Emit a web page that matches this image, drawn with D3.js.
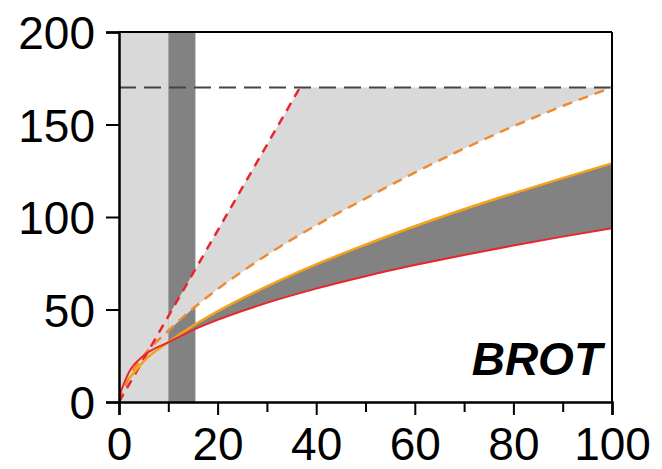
<!DOCTYPE html>
<html>
<head>
<meta charset="utf-8">
<script src="https://cdn.jsdelivr.net/npm/d3@7"></script>
<style>
  body { margin: 0; background: #fff; }
  text { font-family: "Liberation Sans", Arial, sans-serif; }
</style>
</head>
<body>
<script>
// values
var xs = [0, 2, 5, 10, 15, 20, 30, 40, 50, 60, 70, 80, 90, 100];
var orangeDashed = [0, 13, 25, 38.5, 50.5, 61, 79.5, 95.5, 110, 124, 137, 149, 160, 170];
var orangeSolid = [null, 12.5, 22, 32.3, 41.2, 49, 62.5, 74.4, 85, 95, 104.2, 112.8, 121, 129];
var redSolid = [3, 16, 25, 32.2, 38.9, 44.4, 53.6, 61.3, 68, 74, 79.5, 84.6, 89.4, 93.9];
var redDashX = [0, 36.7];
var redDashY = [0, 170];
var capLevel = 170;
var lightBand = [0, 10];
var darkBand = [10, 15.5];
var xTicks = d3.range(0, 101, 10);
var yTicks = [0, 50, 100, 150, 200];
var label = "BROT";

var w = 662, h = 469;
var margin = {left: 119, right: 50, top: 32, bottom: 67};

var svg = d3.select("body").append("svg")
  .attr("width", w)
  .attr("height", h);

var x = d3.scaleLinear().domain([0, 100]).range([margin.left, w - margin.right]);
var y = d3.scaleLinear().domain([0, 200]).range([h - margin.bottom, margin.top]);

// shaded columns
svg.append("rect")
  .attr("x", x(lightBand[0]))
  .attr("y", y(200))
  .attr("width", x(lightBand[1]) - x(lightBand[0]))
  .attr("height", y(0) - y(200))
  .attr("fill", "#d9d9d9");

svg.append("rect")
  .attr("x", x(darkBand[0]))
  .attr("y", y(200))
  .attr("width", x(darkBand[1]) - x(darkBand[0]))
  .attr("height", y(0) - y(200))
  .attr("fill", "#828282");

var pts = xs.map(function(d, i) {
  return {x: d, od: orangeDashed[i], os: orangeSolid[i], rs: redSolid[i]};
});
var fromTen = pts.filter(function(d) { return d.x >= 10; });

// light wedge between red dashed line, cap and orange dashed curve
var redLine = d3.scaleLinear().domain(redDashX).range(redDashY);
var wedge = [[10, redLine(10)], [redDashX[1], capLevel], [100, capLevel]];
fromTen.slice().reverse().forEach(function(d) { wedge.push([d.x, d.od]); });

svg.append("path")
  .attr("d", d3.line().x(function(d) { return x(d[0]); }).y(function(d) { return y(d[1]); })(wedge) + "Z")
  .attr("fill", "#d9d9d9");

// dark band between solid curves
svg.append("path")
  .datum(fromTen)
  .attr("d", d3.area()
    .curve(d3.curveMonotoneX)
    .x(function(d) { return x(d.x); })
    .y0(function(d) { return y(d.rs); })
    .y1(function(d) { return y(d.os); }))
  .attr("fill", "#828282");

// cap line
svg.append("line")
  .attr("x1", x(0))
  .attr("x2", x(101.3))
  .attr("y1", y(capLevel))
  .attr("y2", y(capLevel))
  .attr("stroke", "#444")
  .attr("stroke-width", 2)
  .attr("stroke-dasharray", "17,8");

var line = function(key) {
  return d3.line()
    .curve(d3.curveMonotoneX)
    .defined(function(d) { return d[key] != null; })
    .x(function(d) { return x(d.x); })
    .y(function(d) { return y(d[key]); });
};

svg.append("path")
  .datum(pts)
  .attr("d", line("od"))
  .attr("fill", "none")
  .attr("stroke", "#f08a30")
  .attr("stroke-width", 2.5)
  .attr("stroke-dasharray", "10,7");

svg.append("path")
  .datum(redDashX.map(function(d, i) { return [d, redDashY[i]]; }))
  .attr("d", d3.line().x(function(d) { return x(d[0]); }).y(function(d) { return y(d[1]); }))
  .attr("fill", "none")
  .attr("stroke", "#e8262c")
  .attr("stroke-width", 2.5)
  .attr("stroke-dasharray", "9,7");

svg.append("path")
  .datum(pts)
  .attr("d", line("os"))
  .attr("fill", "none")
  .attr("stroke", "#f5a21a")
  .attr("stroke-width", 2.5);

svg.append("path")
  .datum(pts)
  .attr("d", line("rs"))
  .attr("fill", "none")
  .attr("stroke", "#e8262c")
  .attr("stroke-width", 2);

// frame: top and right
svg.append("line")
  .attr("x1", x(0)).attr("x2", x(100))
  .attr("y1", y(200)).attr("y2", y(200))
  .attr("stroke", "#000").attr("stroke-width", 2);
svg.append("line")
  .attr("x1", x(100)).attr("x2", x(100))
  .attr("y1", y(200)).attr("y2", y(0))
  .attr("stroke", "#000").attr("stroke-width", 2);

// axes
var xAxis = d3.axisBottom(x)
  .tickValues(xTicks)
  .tickSize(13)
  .tickPadding(12)
  .tickFormat(function(d) { return d % 20 === 0 ? d : ""; });

var gx = svg.append("g")
  .attr("transform", "translate(0," + y(0) + ")")
  .call(xAxis);
gx.selectAll(".tick line")
  .attr("y2", function(d) { return d % 20 === 0 ? 13 : 10; });

var yAxis = d3.axisLeft(y)
  .tickValues(yTicks)
  .tickSize(13)
  .tickPadding(11);

var gy = svg.append("g")
  .attr("transform", "translate(" + x(0) + ",0)")
  .call(yAxis);

[gx, gy].forEach(function(g) {
  g.select(".domain").attr("stroke-width", 2.5);
  g.selectAll(".tick line").attr("stroke-width", 2);
  g.selectAll(".tick text")
    .attr("font-size", 46)
    .attr("font-family", "'Liberation Sans', Arial, sans-serif")
    .attr("fill", "#000");
});
gy.selectAll(".tick text").attr("dy", "0.36em");

svg.append("text")
  .attr("x", 602)
  .attr("y", 375)
  .attr("text-anchor", "end")
  .attr("font-size", 46)
  .attr("font-weight", "bold")
  .attr("font-style", "italic")
  .text(label);
</script>
</body>
</html>
